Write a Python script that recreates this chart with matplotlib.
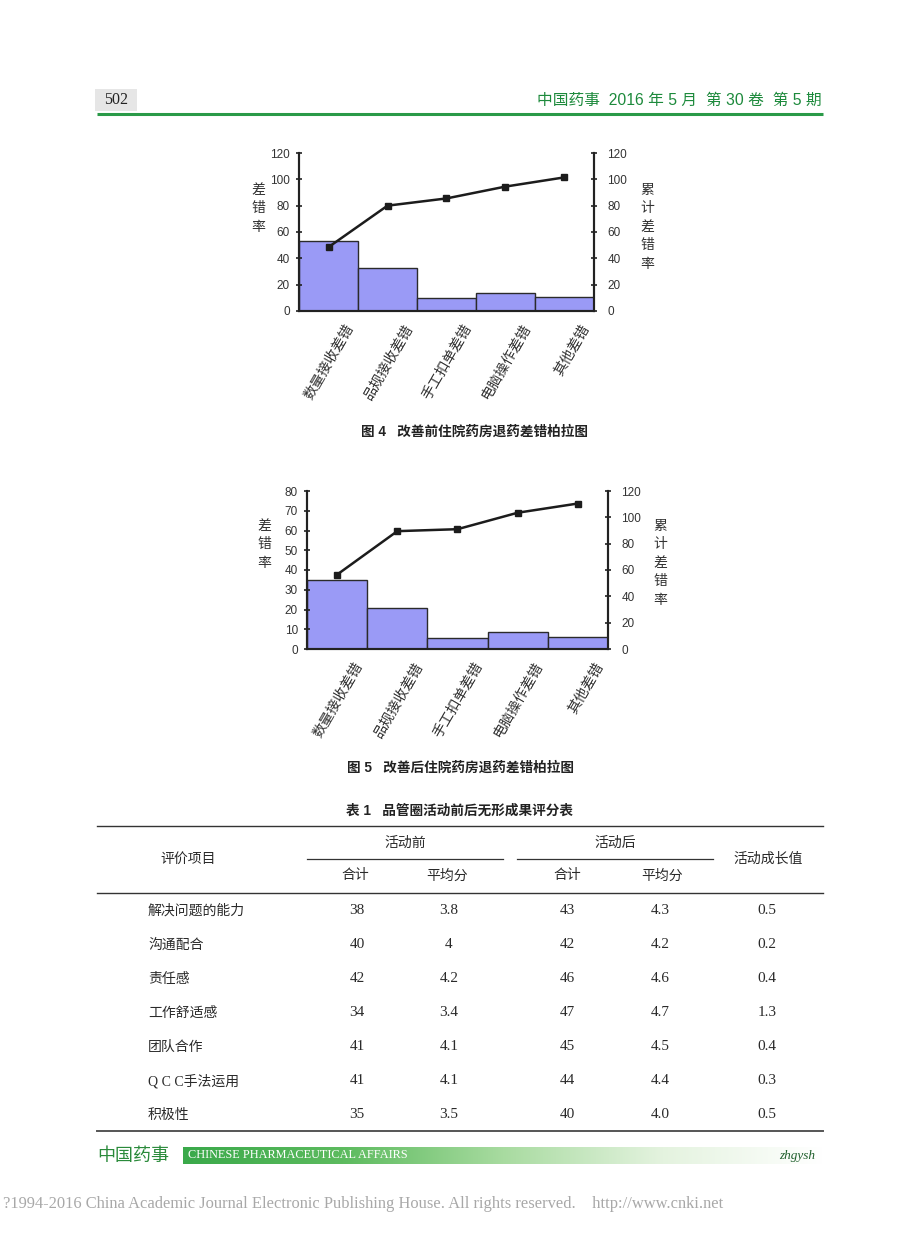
import numpy as np
import matplotlib
matplotlib.use("Agg")
import matplotlib.pyplot as plt
from matplotlib.colors import LinearSegmentedColormap
from matplotlib.transforms import ScaledTranslation

plt.rcParams['font.family'] = ['Liberation Sans', 'Noto Sans CJK SC', 'DejaVu Sans']
SERIF = ['Liberation Serif', 'Noto Sans CJK SC', 'DejaVu Sans']
SANS = ['Liberation Sans', 'Noto Sans CJK SC', 'DejaVu Sans']
CJK = ['Noto Sans CJK SC', 'DejaVu Sans']

# chart data
categories = ['数量接收差错', '品规接收差错', '手工扣单差错', '电脑操作差错', '其他差错']
before_rate = [53, 33, 10, 14, 10.5]
before_cum = [48.5, 80, 85.5, 94.5, 101.5]
after_rate = [35, 21, 5.5, 8.5, 6]
after_cum = [56.5, 89.5, 91, 103.5, 110.5]

# table data
items = ['解决问题的能力', '沟通配合', '责任感', '工作舒适感', '团队合作', 'Q C C手法运用', '积极性']
before_total = ['38', '40', '42', '34', '41', '41', '35']
before_avg = ['3.8', '4', '4.2', '3.4', '4.1', '4.1', '3.5']
after_total = ['43', '42', '46', '47', '45', '44', '40']
after_avg = ['4.3', '4.2', '4.6', '4.7', '4.5', '4.4', '4.0']
growth = ['0.5', '0.2', '0.4', '1.3', '0.4', '0.3', '0.5']

W, H = 920, 1240
fig = plt.figure(figsize=(W / 100, H / 100), dpi=100)
fig.patch.set_facecolor('white')

# full page overlay in pixel coordinates
page = fig.add_axes([0, 0, 1, 1], zorder=0)
page.set_xlim(0, W)
page.set_ylim(H, 0)
page.axis('off')


def box(l, t, r, b):
    return [l / W, 1 - b / H, (r - l) / W, (b - t) / H]


def pareto(rect, rates, cum, left_max, left_step):
    ax = fig.add_axes(box(*rect), zorder=2)
    ax.patch.set_alpha(0)
    x = np.arange(len(categories))
    ax.bar(x, rates, width=1.0, color='#9a9af6', edgecolor='#2b2b2b', linewidth=1.0)
    ax.set_xlim(-0.5, len(categories) - 0.5)
    ax.set_ylim(0, left_max)
    ax.set_yticks(np.arange(0, left_max + 1, left_step))
    ax.set_xticks(x, categories)
    ax2 = ax.twinx()
    ax2.plot(x, cum, color='#1c1c1c', lw=1.8, marker='s', ms=5, mfc='#1c1c1c')
    ax2.set_ylim(0, 120)
    ax2.set_yticks(np.arange(0, 121, 20))
    for a in (ax, ax2):
        a.spines['top'].set_visible(False)
        for s in ('left', 'right', 'bottom'):
            a.spines[s].set_color('#222222')
            a.spines[s].set_linewidth(1.5)
    ax.tick_params(axis='y', direction='inout', length=5, width=1.2, color='#222222',
                   labelsize=8.5, labelcolor='#333333', pad=4)
    ax2.tick_params(axis='y', direction='inout', length=5, width=1.2, color='#222222',
                    labelsize=8.5, labelcolor='#333333', pad=7)
    ax.tick_params(axis='x', length=0, pad=0)
    for lab in ax.get_xticklabels():
        lab.set_fontfamily(CJK)
        lab.set_fontsize(10.2)
        lab.set_color('#333333')
        lab.set_rotation(60)
        lab.set_ha('right')
        lab.set_va('center')
        lab.set_rotation_mode('anchor')
        lab.set_transform(lab.get_transform() + ScaledTranslation(0.22, -0.14, fig.dpi_scale_trans))
    return ax


pareto((299, 153, 594, 311), before_rate, before_cum, 120, 20)
pareto((307, 491, 608, 649), after_rate, after_cum, 80, 10)


def vlabel(x, y, s):
    page.text(x, y, '\n'.join(s), ha='center', va='top', fontsize=10, color='#333333',
              family=CJK, linespacing=1.4)


vlabel(258, 183, '差错率')
vlabel(647, 183, '累计差错率')
vlabel(264, 519, '差错率')
vlabel(660, 519, '累计差错率')

# captions
cap = dict(ha='center', va='center', fontsize=9.8, family=SANS, fontweight='bold', color='#222222')
page.text(475, 432, '图 4   改善前住院药房退药差错柏拉图', **cap)
page.text(461, 768, '图 5   改善后住院药房退药差错柏拉图', **cap)
page.text(460, 811, '表 1   品管圈活动前后无形成果评分表', **cap)

# header
page.add_patch(plt.Rectangle((95, 89), 42, 22, facecolor='#e6e6e6', edgecolor='none'))
page.text(116, 100, '502', ha='center', va='center', fontsize=11.5, family=SERIF, color='#222222')
page.text(822, 100, '中国药事  2016 年 5 月  第 30 卷  第 5 期', ha='right', va='center',
          fontsize=11.3, family=SANS, color='#1d8a3c')
page.plot([97, 823], [114, 114], color='#2a9a48', lw=2.2, solid_capstyle='butt')

# table
tc = '#2a2a2a'
page.plot([97, 823], [826, 826], color='#333333', lw=1)
page.plot([307, 503], [859, 859], color='#333333', lw=0.9)
page.plot([517, 713], [859, 859], color='#333333', lw=0.9)
page.plot([97, 823], [893, 893], color='#333333', lw=1)
page.plot([97, 823], [1131, 1131], color='#555555', lw=1.4)
hdr = dict(ha='center', va='center', fontsize=10, family=SERIF, color=tc)
page.text(188, 859, '评价项目', **hdr)
page.text(405, 843, '活动前', **hdr)
page.text(615, 843, '活动后', **hdr)
page.text(768, 859, '活动成长值', **hdr)
page.text(355, 876, '合计', **hdr)
page.text(447, 876, '平均分', **hdr)
page.text(567, 876, '合计', **hdr)
page.text(662, 876, '平均分', **hdr)

col_x = [357, 449, 567, 660, 767]
for i, name in enumerate(items):
    y = 911 + 34 * i
    page.text(148, y, name, ha='left', va='center', fontsize=10, family=SERIF, color=tc)
    row = [before_total[i], before_avg[i], after_total[i], after_avg[i], growth[i]]
    for x, v in zip(col_x, row):
        page.text(x, y, v, ha='center', va='center', fontsize=11, family=SERIF, color=tc)

# footer
page.text(97, 1156, '中国药事', ha='left', va='center', fontsize=13, family=CJK,
          color='#2a8a3a', fontweight='light')
grad = LinearSegmentedColormap.from_list('g', ['#3aa94a', '#5dbb5f', '#a8dba0', '#e4f3df', '#ffffff'])
page.imshow(np.linspace(0, 1, 256)[None, :], cmap=grad, aspect='auto',
            extent=(183, 823, 1164, 1147), zorder=1)
page.set_xlim(0, W)
page.set_ylim(H, 0)
page.text(188, 1155.5, 'CHINESE PHARMACEUTICAL AFFAIRS', ha='left', va='center', fontsize=8.8,
          family=SERIF, color='white', zorder=2)
page.text(815, 1155.5, 'zhgysh', ha='right', va='center', fontsize=9.5, family=SERIF,
          style='italic', color='#1f5f2c', zorder=2)
page.text(3, 1204, '?1994-2016 China Academic Journal Electronic Publishing House. All rights reserved.'
          '    http://www.cnki.net', ha='left', va='center', fontsize=11.9, family=SERIF,
          color='#a8a8a8')

fig.savefig('out.png', dpi=100)
